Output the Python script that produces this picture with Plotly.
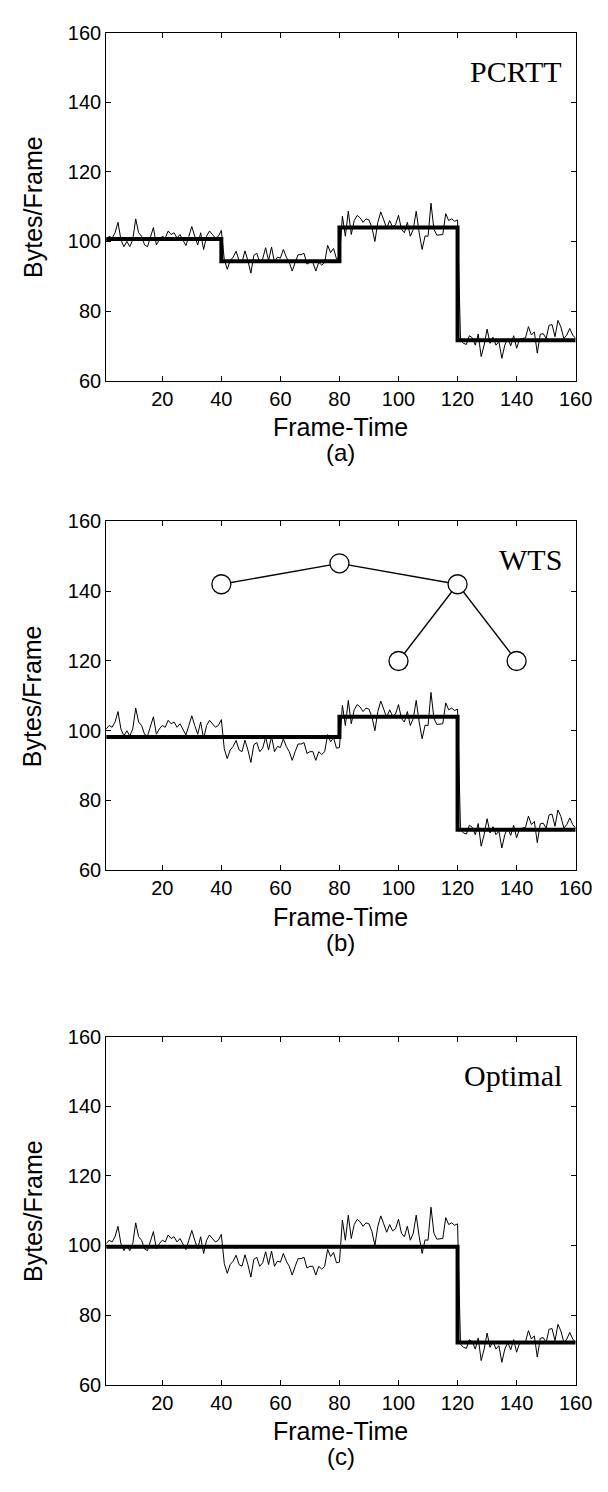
import plotly.graph_objects as go

# ---------------- data ----------------
frames = list(range(1, 161))
traffic = [
    100.5, 101.5, 101.0, 102.5, 105.5, 100.5, 98.5, 100.0, 98.5, 100.5,
    106.5, 102.5, 101.5, 99.0, 98.5, 101.0, 104.0, 99.0, 100.5, 101.5,
    101.0, 103.0, 102.0, 102.5, 101.0, 102.0, 100.5, 98.8, 101.5, 104.3,
    101.5, 99.0, 102.5, 97.7, 101.5, 103.0, 102.0, 101.0, 101.5, 103.2,
    94.8, 92.0, 94.5, 95.5, 97.2, 94.5, 94.0, 97.3, 94.5, 90.9,
    96.0, 96.6, 94.0, 95.0, 98.2, 94.5, 98.4, 94.0, 95.5, 95.2,
    97.7, 95.5, 94.0, 91.5, 94.0, 96.2, 96.2, 96.6, 93.5, 94.0,
    94.0, 91.5, 94.0, 93.2, 94.0, 98.9, 96.8, 98.0, 95.0, 95.2,
    107.3, 101.5, 108.7, 102.0, 106.0, 107.5, 106.8, 105.5, 106.5, 106.2,
    104.0, 100.0, 105.5, 108.5, 106.2, 103.8, 106.0, 104.2, 104.8, 107.5,
    103.5, 102.5, 105.5, 101.5, 103.5, 108.7, 102.5, 97.7, 101.6, 101.5,
    111.0, 103.5, 101.8, 102.0, 102.0, 108.0, 106.0, 106.5, 105.8, 106.2,
    71.6, 70.7, 70.4, 72.9, 72.3, 70.2, 73.4, 66.9, 70.2, 74.8,
    70.7, 72.5, 70.2, 71.2, 66.4, 70.2, 72.1, 70.0, 72.9, 69.3,
    71.9, 72.1, 72.3, 75.5, 73.1, 74.0, 67.9, 73.3, 73.5, 72.1,
    75.9, 76.1, 72.6, 77.3, 75.4, 72.1, 73.1, 75.0, 73.1, 72.1,
]

pcrtt_edges = [1, 40, 80, 120, 160]
pcrtt_levels = [100.7, 94.3, 104.0, 71.6, 71.6]
wts_edges = [1, 80, 120, 160]
wts_levels = [98.2, 104.0, 71.6, 71.6]
opt_edges = [1, 120, 160]
opt_levels = [99.6, 72.1, 72.1]

tree_x = [40, 80, 120, 100, 140]
tree_y = [142, 148, 142, 120, 120]
tree_links = [(0, 1), (1, 2), (2, 3), (2, 4)]

panel_names = ["PCRTT", "WTS", "Optimal"]
panel_tags = ["(a)", "(b)", "(c)"]
x_ticks = [20, 40, 60, 80, 100, 120, 140, 160]
y_ticks = [60, 80, 100, 120, 140, 160]

# ---------------- layout geometry ----------------
W, H = 608, 1492
x_px = (101, 584)
panels_px = [(14, 367), (510, 864), (1033, 1386)]

def fy(p):
    return 1 - p / H

fig = go.Figure()

steps = [(pcrtt_edges, pcrtt_levels), (wts_edges, wts_levels), (opt_edges, opt_levels)]

for i in range(3):
    xa = "x" if i == 0 else f"x{i+1}"
    ya = "y" if i == 0 else f"y{i+1}"
    fig.add_trace(go.Scatter(x=frames, y=traffic, mode="lines",
                             line=dict(color="black", width=1),
                             xaxis=xa, yaxis=ya, showlegend=False))
    ex, lv = steps[i]
    fig.add_trace(go.Scatter(x=ex, y=lv, mode="lines", line_shape="hv",
                             line=dict(color="black", width=4),
                             xaxis=xa, yaxis=ya, showlegend=False))
    if i == 1:
        lx, ly = [], []
        for a, b in tree_links:
            lx += [tree_x[a], tree_x[b], None]
            ly += [tree_y[a], tree_y[b], None]
        fig.add_trace(go.Scatter(x=lx, y=ly, mode="lines",
                                 line=dict(color="black", width=1.3),
                                 xaxis=xa, yaxis=ya, showlegend=False))
        fig.add_trace(go.Scatter(x=tree_x, y=tree_y, mode="markers",
                                 marker=dict(symbol="circle", size=19, color="white",
                                             line=dict(color="black", width=1.3)),
                                 xaxis=xa, yaxis=ya, showlegend=False))

sans = "Liberation Sans, Arial"
axis_common = dict(showline=True, linecolor="black", linewidth=1, mirror="ticks",
                   ticks="inside", ticklen=5, tickcolor="black", showgrid=False,
                   zeroline=False,
                   tickfont=dict(family=sans, size=20, color="black"))

layout = dict(width=W, height=H, margin=dict(l=0, r=0, t=0, b=0),
              paper_bgcolor="white", plot_bgcolor="white", showlegend=False)
annotations = []
for i, (top, bot) in enumerate(panels_px):
    sx = "" if i == 0 else str(i + 1)
    layout[f"xaxis{sx}"] = dict(axis_common, domain=[x_px[0] / W, x_px[1] / W],
                                range=[1, 160], tickvals=x_ticks,
                                anchor=f"y{sx}")
    layout[f"yaxis{sx}"] = dict(axis_common, domain=[fy(bot), fy(top)],
                                range=[60, 160], tickvals=y_ticks,
                                anchor=f"x{sx}")
    xc = (x_px[0] + x_px[1]) / 2 / W
    annotations.append(dict(text="Bytes/Frame", x=25 / W, y=fy((top + bot) / 2),
                            xref="paper", yref="paper", xanchor="center", yanchor="middle",
                            showarrow=False, textangle=-90,
                            font=dict(family=sans, size=25, color="black")))
    annotations.append(dict(text="Frame-Time", x=xc, y=fy(bot + 47),
                            xref="paper", yref="paper", xanchor="center", yanchor="middle",
                            showarrow=False,
                            font=dict(family=sans, size=25, color="black")))
    annotations.append(dict(text=panel_tags[i], x=xc, y=fy(bot + 73),
                            xref="paper", yref="paper", xanchor="center", yanchor="middle",
                            showarrow=False,
                            font=dict(family=sans, size=24, color="black")))
    annotations.append(dict(text=panel_names[i], x=156, y=149, xanchor="right",
                            yanchor="middle",
                            xref=f"x{sx}", yref=f"y{sx}", showarrow=False,
                            font=dict(family="Liberation Serif, Times New Roman", size=30,
                                      color="black")))
layout["annotations"] = annotations
fig.update_layout(**layout)

fig.write_html("out.html")
